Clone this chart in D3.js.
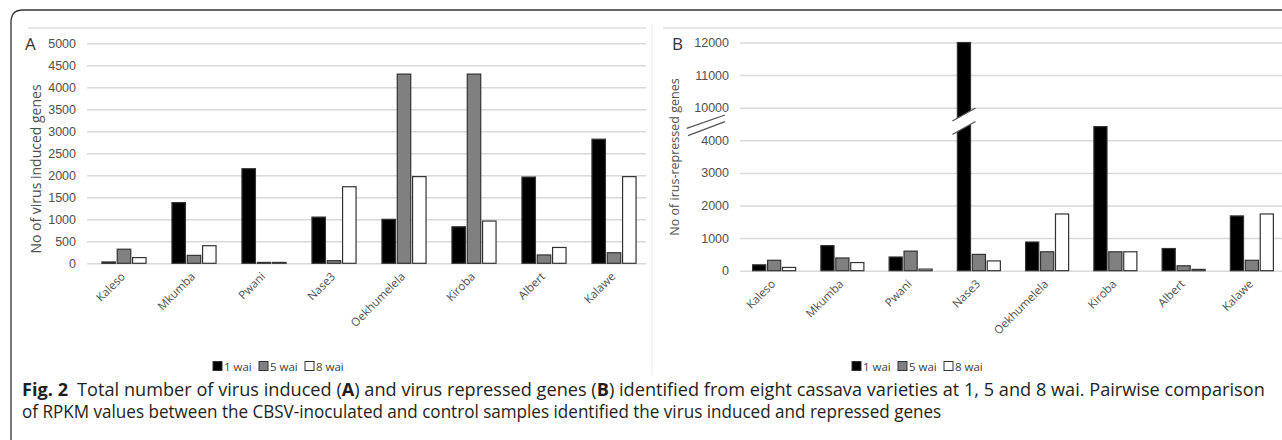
<!DOCTYPE html>
<html>
<head>
<meta charset="utf-8">
<script src="https://cdn.jsdelivr.net/npm/d3@7"></script>
<style>
  body { margin: 0; background: #fff; }
  svg { display: block; font-family: "Open Sans", "Noto Sans", sans-serif; }
</style>
</head>
<body>
<div id="chart"></div>
<script>
// varieties and time points
const varieties = ['Kaleso', 'Mkumba', 'Pwani', 'Nase3', 'Oekhumelela', 'Kiroba', 'Albert', 'Kalawe'];
const timepoints = ['1 wai', '5 wai', '8 wai'];

// panel A: virus induced genes
const induced1 = [30, 1380, 2150, 1050, 1000, 830, 1960, 2820];
const induced5 = [320, 180, 20, 60, 4300, 4300, 190, 240];
const induced8 = [130, 400, 20, 1740, 1970, 960, 360, 1970];

// panel B: virus repressed genes
const repressed1 = [180, 770, 420, 12000, 880, 4420, 680, 1680];
const repressed5 = [320, 390, 600, 500, 580, 580, 150, 320];
const repressed8 = [100, 250, 50, 300, 1740, 580, 40, 1740];

const ticksA = [0, 500, 1000, 1500, 2000, 2500, 3000, 3500, 4000, 4500, 5000];
const ticksB = [0, 1000, 2000, 3000, 4000, 10000, 11000, 12000];

const fills = ['#000000', '#808080', '#ffffff'];

const W = 1282, H = 440;
const svg = d3.select('#chart').append('svg')
  .attr('width', W)
  .attr('height', H);

// outer frame (rounded top-left corner, open at right/bottom)
svg.append('path')
  .attr('d', 'M11,440 L11,22 Q11,10 23,10 L1282,10')
  .attr('fill', 'none')
  .attr('stroke', '#333')
  .attr('stroke-width', 1.3);

function drawPanel(opts) {
  const g = svg.append('g');
  const x0 = d3.scaleBand().domain(varieties).range(opts.xRange).paddingInner(0.37).paddingOuter(0.185);
  const x1 = d3.scaleBand().domain(timepoints).range([0, x0.bandwidth()]).paddingInner(0.12);
  const y = opts.y;

  // chart-area top line
  g.append('line')
    .attr('x1', opts.frameX[0]).attr('x2', opts.frameX[1])
    .attr('y1', 28).attr('y2', 28)
    .attr('stroke', '#dedede').attr('stroke-width', 1.5);

  // gridlines + tick labels
  const axis = d3.axisLeft(y)
    .tickValues(opts.ticks)
    .tickFormat(d3.format('d'))
    .tickSize(-(opts.gridX[1] - opts.gridX[0]))
    .tickPadding(11);
  const ax = g.append('g')
    .attr('transform', `translate(${opts.gridX[0]},0)`)
    .call(axis);
  ax.select('.domain').remove();
  ax.selectAll('.tick line').attr('stroke', '#d9d9d9').attr('stroke-width', 1.5);
  ax.selectAll('.tick text')
    .attr('fill', '#505050')
    .style('font-size', '12.5px');

  // bars
  const groups = g.selectAll('g.grp')
    .data(varieties.map((v, i) => ({ v, vals: opts.series.map(s => s[i]) })))
    .enter().append('g')
    .attr('transform', d => `translate(${x0(d.v)},0)`);

  groups.selectAll('rect')
    .data(d => d.vals.map((val, j) => ({ t: timepoints[j], val, j })))
    .enter().append('rect')
    .attr('x', d => x1(d.t))
    .attr('width', x1.bandwidth())
    .attr('y', d => y(d.val))
    .attr('height', d => y(0) - y(d.val))
    .attr('fill', d => fills[d.j])
    .attr('stroke', '#333')
    .attr('stroke-width', 1.2);

  // category labels, rotated
  g.append('g').selectAll('text')
    .data(varieties)
    .enter().append('text')
    .attr('transform', d => `translate(${x0(d) + x0.bandwidth() / 2 + 2},${y(0) + 14}) rotate(-45)`)
    .attr('text-anchor', 'end')
    .attr('fill', '#505050')
    .style('font-size', '11.5px')
    .text(d => d);

  // y title
  g.append('text')
    .attr('transform', `translate(${opts.titleX},${opts.titleY}) rotate(-90)`)
    .attr('text-anchor', 'middle')
    .attr('fill', '#505050')
    .style('font-size', opts.titleSize)
    .text(opts.title);

  // panel letter
  g.append('text')
    .attr('x', opts.letterX).attr('y', 50)
    .attr('fill', '#333')
    .style('font-size', '17px')
    .text(opts.letter);

  // legend
  const lg = g.append('g').attr('transform', `translate(${opts.legendX},366)`);
  const item = lg.selectAll('g').data(timepoints).enter().append('g')
    .attr('transform', (d, i) => `translate(${i * 46},0)`);
  item.append('rect')
    .attr('x', 0).attr('y', -4.5).attr('width', 9).attr('height', 9)
    .attr('fill', (d, i) => fills[i])
    .attr('stroke', '#333').attr('stroke-width', 1);
  item.append('text')
    .attr('x', 11).attr('y', 4.5)
    .attr('fill', '#404040')
    .style('font-size', '11.5px')
    .text(d => d);

  return { g, x0, x1, y };
}

// panel A
const yA = d3.scaleLinear().domain([0, 5000]).range([263.3, 43.3]);
drawPanel({
  xRange: [89, 649], y: yA, ticks: ticksA,
  series: [induced1, induced5, induced8],
  gridX: [87, 646], frameX: [28, 646],
  title: 'No of virus induced genes', titleX: 41, titleY: 169, titleSize: '14px',
  letter: 'A', letterX: 25, legendX: 213
});

// panel B, broken axis: 5000..10000 collapsed
const yB = d3.scaleLinear().domain([0, 5000, 10000, 12000]).range([270.7, 107.7, 107.7, 42.5]);
const pB = drawPanel({
  xRange: [740, 1286], y: yB, ticks: ticksB,
  series: [repressed1, repressed5, repressed8],
  gridX: [740, 1282], frameX: [663, 1282],
  title: 'No of irus-repressed genes', titleX: 679, titleY: 157, titleSize: '12.5px',
  letter: 'B', letterX: 672, legendX: 852
});

// separator between panels
svg.append('line')
  .attr('x1', 652).attr('x2', 652).attr('y1', 24).attr('y2', 375)
  .attr('stroke', '#ececec').attr('stroke-width', 1);

// axis break marks
const brk = svg.append('g').attr('stroke', '#555').attr('stroke-width', 1.3);
brk.append('line').attr('x1', 686.7).attr('y1', 128.3).attr('x2', 725).attr('y2', 115);
brk.append('line').attr('x1', 688).attr('y1', 135.7).attr('x2', 725).attr('y2', 121.7);

// bar break on Nase3 1 wai
const bx = pB.x0('Nase3') + pB.x1('1 wai');
const bw = pB.x1.bandwidth();
svg.append('path')
  .attr('d', `M${bx - 5},${121} L${bx + bw + 5},${108} L${bx + bw + 5},${121.5} L${bx - 5},${134.5} Z`)
  .attr('fill', '#fff');
svg.append('line').attr('x1', bx - 5).attr('y1', 121).attr('x2', bx + bw + 5).attr('y2', 108)
  .attr('stroke', '#555').attr('stroke-width', 1.3);
svg.append('line').attr('x1', bx - 5).attr('y1', 134.5).attr('x2', bx + bw + 5).attr('y2', 121.5)
  .attr('stroke', '#555').attr('stroke-width', 1.3);

// caption
const cap = svg.append('g').attr('fill', '#231f20').style('font-size', '17.5px');
const line1 = cap.append('text').attr('x', 0).attr('y', 0);
line1.append('tspan').attr('font-weight', 'bold').text('Fig. 2');
line1.append('tspan').text('\u2002Total number of virus induced (');
line1.append('tspan').attr('font-weight', 'bold').text('A');
line1.append('tspan').text(') and virus repressed genes (');
line1.append('tspan').attr('font-weight', 'bold').text('B');
line1.append('tspan').text(') identified from eight cassava varieties at 1, 5 and 8 wai. Pairwise comparison');
const line2 = cap.append('text').attr('x', 0).attr('y', 0)
  .text('of RPKM values between the CBSV-inoculated and control samples identified the virus induced and repressed genes');

function fitLine(t, x, y, width) {
  const w = t.node().getComputedTextLength();
  t.attr('transform', `translate(${x},${y}) scale(${width / w},1)`);
}
fitLine(line1, 22, 396, 1243);
fitLine(line2, 22, 418, 920);
</script>
</body>
</html>
